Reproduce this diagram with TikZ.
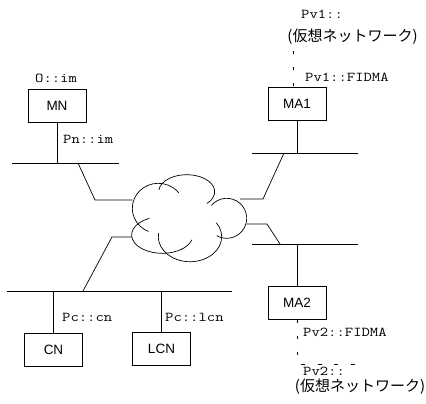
\documentclass[tikz,border=0pt]{standalone}
\usepackage{fontspec}
\setmainfont{Liberation Sans}
\setmonofont[FakeStretch=1.2]{Latin Modern Mono}
\newfontfamily\jpf{Noto Sans CJK JP}
\begin{document}
\begin{tikzpicture}[x=1pt,y=-1pt,
  box/.style={draw, line width=0.7pt, minimum width=58pt, minimum height=33pt, inner sep=0pt, font=\fontsize{13.5}{14}\selectfont},
  mlab/.style={inner sep=0pt, anchor=base west, font=\ttfamily\fontsize{13.5}{15}\selectfont},
  jlab/.style={inner sep=0pt, font=\jpf\fontsize{15}{16}\selectfont},
  ln/.style={line width=0.7pt},
  dsh/.style={line width=0.7pt, dash pattern=on 3.5pt off 12.5pt}]
\useasboundingbox (0,0) rectangle (426,404);

% boxes
\node[box] (MN) at (57,105.5) {MN};
\node[box] (MA1) at (297,104) {MA1};
\node[box] (MA2) at (297,303) {MA2};
\node[box] (CN) at (53.5,349.5) {CN};
\node[box] (LCN) at (161.5,349) {LCN};

% labels
\node[mlab] (oim) at (35,82) {O::im};
\node[mlab] (pnim) at (63,143.5) {Pn::im};
\node[mlab] (pv1) at (301,18.5) {Pv1::};
\node[jlab] (vn1) at (352.5,37) {(仮想ネットワーク)};
\node[mlab] (pv1f) at (305,81.5) {Pv1::FIDMA};
\node[mlab] (pv2f) at (303,336.5) {Pv2::FIDMA};
\node[mlab] (pv2) at (303,375.5) {Pv2::};
\node[jlab] (vn2) at (360,386.5) {(仮想ネットワーク)};
\node[mlab] (pccn) at (62,321.5) {Pc::cn};
\node[mlab] (pclcn) at (165,321.5) {Pc::lcn};

% cloud
\draw[ln] (158.3,208.3) ++(112:26 and 25) arc[start angle=112, end angle=322, x radius=26, y radius=25];
\draw[ln] (186.7,191.7) ++(186:28 and 17) arc[start angle=186, end angle=404, x radius=28, y radius=17];
\draw[ln] (226.7,218.3) ++(220:20 and 20) arc[start angle=220, end angle=480, x radius=20, y radius=20];
\draw[ln] (190,236.7) ++(-34:31.7 and 25) arc[start angle=-34, end angle=188, x radius=31.7, y radius=25];
\draw[ln] (162.3,235) ++(245:30.7 and 18.3) arc[start angle=245, end angle=15, x radius=30.7, y radius=18.3];

% left upper network
\coordinate (busLa) at (12,163);
\coordinate (busLb) at (119,163);
\draw[ln] (busLa) -- (busLb);
\draw[ln] (MN.south) -- (MN.south |- busLa);
\coordinate (jL1) at (78,163);
\coordinate (jL2) at (95,200);
\coordinate (cW1) at (132.3,200);
\draw[ln] (jL1) -- (jL2) -- (cW1);

% right upper network
\coordinate (busR1a) at (252,153);
\coordinate (busR1b) at (358,153);
\draw[ln] (busR1a) -- (busR1b);
\draw[ln] (MA1.south) -- (MA1.south |- busR1a);
\coordinate (jR1) at (284,153);
\coordinate (jR2) at (263,199);
\coordinate (cN1) at (240,199);
\draw[ln] (jR1) -- (jR2) -- (cN1);

% right lower network
\coordinate (busR2a) at (252,244);
\coordinate (busR2b) at (358,244);
\draw[ln] (busR2a) -- (busR2b);
\draw[ln] (MA2.north) -- (MA2.north |- busR2a);
\coordinate (cE1) at (246.7,224);
\coordinate (jR3) at (267,224);
\coordinate (jR4) at (280,244);
\draw[ln] (cE1) -- (jR3) -- (jR4);

% bottom network
\coordinate (busBa) at (7,291);
\coordinate (busBb) at (232,291);
\draw[ln] (busBa) -- (busBb);
\draw[ln] (CN.north) -- (CN.north |- busBa);
\draw[ln] (LCN.north) -- (LCN.north |- busBa);
\coordinate (cW2) at (131.6,237);
\coordinate (jB1) at (112,237);
\coordinate (jB2) at (83,291);
\draw[ln] (cW2) -- (jB1) -- (jB2);

% virtual network dashed links
\coordinate (v1top) at (293,51);
\draw[dsh] (v1top) -- (v1top |- MA1.north);
\coordinate (v2bot) at (297,357);
\draw[dsh] (MA2.south) -- (v2bot);
\coordinate (h2a) at (301,364);
\coordinate (h2b) at (355,364);
\draw[dsh, dash pattern=on 4pt off 12.5pt] (h2a) -- (h2b);
\end{tikzpicture}
\end{document}
